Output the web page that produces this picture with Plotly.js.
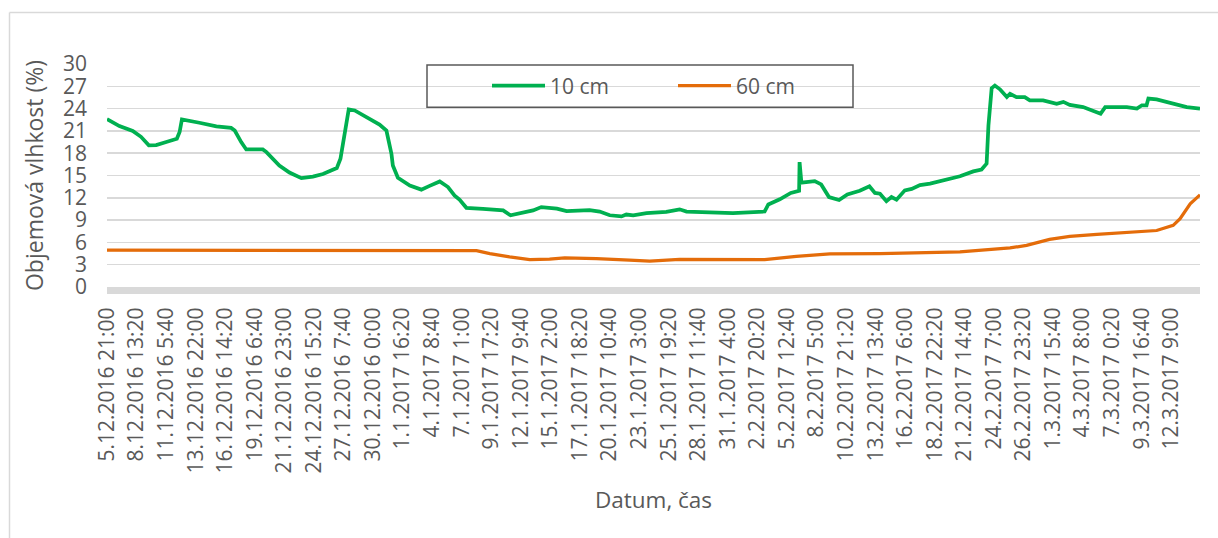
<!DOCTYPE html>
<html><head><meta charset="utf-8">
<script src="https://cdn.plot.ly/plotly-3.0.1.min.js"></script>
<style>html,body{margin:0;padding:0;background:#fff}#chart{width:1218px;height:538px}</style>
</head><body><div id="chart"></div>
<script>
// Category tick labels shown on the x axis (every 64 h 20 min)
const tickLabels = [
 "5.12.2016 21:00","8.12.2016 13:20","11.12.2016 5:40","13.12.2016 22:00","16.12.2016 14:20",
 "19.12.2016 6:40","21.12.2016 23:00","24.12.2016 15:20","27.12.2016 7:40","30.12.2016 0:00",
 "1.1.2017 16:20","4.1.2017 8:40","7.1.2017 1:00","9.1.2017 17:20","12.1.2017 9:40",
 "15.1.2017 2:00","17.1.2017 18:20","20.1.2017 10:40","23.1.2017 3:00","25.1.2017 19:20",
 "28.1.2017 11:40","31.1.2017 4:00","2.2.2017 20:20","5.2.2017 12:40","8.2.2017 5:00",
 "10.2.2017 21:20","13.2.2017 13:40","16.2.2017 6:00","18.2.2017 22:20","21.2.2017 14:40",
 "24.2.2017 7:00","26.2.2017 23:20","1.3.2017 15:40","4.3.2017 8:00","7.3.2017 0:20",
 "9.3.2017 16:40","12.3.2017 9:00"
];

// 10 cm series (volumetric moisture, %)
const time10 = [
 "2016-12-05 21:00","2016-12-07 00:00","2016-12-08 05:00","2016-12-08 23:00","2016-12-09 16:00",
 "2016-12-10 08:00","2016-12-11 06:00","2016-12-12 05:00","2016-12-12 11:00","2016-12-12 16:00",
 "2016-12-14 06:00","2016-12-15 19:00","2016-12-17 03:00","2016-12-17 11:00","2016-12-18 01:00",
 "2016-12-18 12:00","2016-12-20 00:00","2016-12-20 08:00","2016-12-21 12:00","2016-12-22 10:00",
 "2016-12-23 12:00","2016-12-24 13:00","2016-12-25 11:00","2016-12-26 17:00","2016-12-27 01:00",
 "2016-12-27 10:00","2016-12-27 19:00","2016-12-28 08:00","2016-12-29 09:00","2016-12-30 14:00",
 "2016-12-31 05:00","2016-12-31 16:00","2016-12-31 19:00","2017-01-01 06:00","2017-01-02 08:00",
 "2017-01-03 09:00","2017-01-04 03:00","2017-01-05 01:00","2017-01-05 19:00","2017-01-06 09:30",
 "2017-01-06 20:00","2017-01-07 11:00","2017-01-08 23:00","2017-01-10 08:00","2017-01-10 19:00",
 "2017-01-11 11:00","2017-01-12 14:00","2017-01-13 12:00","2017-01-14 06:00","2017-01-15 16:00",
 "2017-01-16 13:00","2017-01-18 15:00","2017-01-19 13:00","2017-01-20 11:00","2017-01-21 12:30",
 "2017-01-21 23:00","2017-01-22 14:00","2017-01-23 19:00","2017-01-25 14:00","2017-01-26 19:00",
 "2017-01-27 10:00","2017-01-29 20:00","2017-01-31 15:00","2017-02-03 12:00","2017-02-03 20:00",
 "2017-02-04 21:00","2017-02-05 21:00","2017-02-06 15:00","2017-02-06 16:00","2017-02-06 20:00",
 "2017-02-08 01:00","2017-02-08 15:00","2017-02-09 08:00","2017-02-10 06:00","2017-02-11 00:00",
 "2017-02-12 03:00","2017-02-13 00:00","2017-02-13 12:00","2017-02-13 23:00","2017-02-14 13:00",
 "2017-02-15 00:00","2017-02-15 11:00","2017-02-16 05:00","2017-02-16 20:00","2017-02-17 14:00",
 "2017-02-18 12:00","2017-02-19 17:00","2017-02-21 05:00","2017-02-22 10:00","2017-02-23 04:00",
 "2017-02-23 15:00","2017-02-23 19:00","2017-02-24 02:00","2017-02-24 09:00","2017-02-24 20:00",
 "2017-02-25 11:00","2017-02-25 18:00","2017-02-26 08:00","2017-02-27 02:00","2017-02-27 13:00",
 "2017-02-28 18:00","2017-03-01 23:30","2017-03-02 14:00","2017-03-03 04:00","2017-03-04 09:00",
 "2017-03-05 07:00","2017-03-05 23:00","2017-03-06 09:00","2017-03-07 10:00","2017-03-08 08:00",
 "2017-03-09 06:00","2017-03-09 17:00","2017-03-10 03:00","2017-03-10 07:00","2017-03-11 01:00",
 "2017-03-12 13:00","2017-03-13 18:30","2017-03-14 23:20"
];
const value10 = [
 22.6,21.65,21.0,20.2,19.05, 19.1,19.5,19.95,20.85,22.55,
 22.1,21.6,21.4,21.05,19.5, 18.5,18.5,18.15,16.35,15.4,
 14.65,14.85,15.2,16.0,17.25, 20.85,23.9,23.75,22.85,21.85,
 21.05,17.9,16.35,14.7,13.65, 13.1,13.6,14.2,13.45,12.3,
 11.75,10.65,10.5,10.3,10.3, 9.65,10.05,10.3,10.75,10.55,
 10.2,10.35,10.15,9.65,9.5, 9.75,9.65,9.95,10.1,10.45,
 10.15,10.05,9.95,10.15,11.1, 11.8,12.65,12.95,16.8,14.05,
 14.25,13.8,12.1,11.7,12.45, 12.95,13.55,12.65,12.55,11.55,
 12.1,11.75,13.0,13.2,13.7, 13.9,14.35,14.9,15.55,15.8,
 16.6,21.75,26.75,27.1,26.6, 25.55,26.0,25.55,25.55,25.1,
 25.1,24.65,24.9,24.5,24.2, 23.75,23.3,24.2,24.2,24.2,
 24.0,24.45,24.45,25.35,25.25, 24.65,24.2,24.0
];

// 60 cm series (volumetric moisture, %)
const time60 = [
 "2016-12-05 21:00","2016-12-14 06:00","2016-12-24 13:00","2017-01-02 08:00","2017-01-07 18:00",
 "2017-01-08 09:00","2017-01-09 14:00","2017-01-11 09:00","2017-01-13 05:00","2017-01-15 00:00",
 "2017-01-16 09:00","2017-01-19 06:00","2017-01-22 06:00","2017-01-24 02:00","2017-01-26 19:00",
 "2017-01-31 08:00","2017-02-03 12:00","2017-02-06 09:00","2017-02-09 10:00","2017-02-13 23:00",
 "2017-02-17 14:00","2017-02-21 05:00","2017-02-25 18:00","2017-02-27 06:00","2017-03-01 08:00",
 "2017-03-03 04:00","2017-03-05 15:00","2017-03-08 08:00","2017-03-11 01:00","2017-03-12 13:00",
 "2017-03-13 04:00","2017-03-14 02:00","2017-03-14 23:20"
];
const value60 = [
 4.95,4.95,4.97,4.95,4.95, 4.9,4.5,4.05,3.7,3.75,
 3.92,3.82,3.6,3.48,3.7, 3.67,3.67,4.12,4.45,4.5,
 4.6,4.72,5.25,5.6,6.4, 6.8,7.08,7.3,7.6,8.29,
 9.19,11.2,12.4
];

const seriesNames = ["10 cm", "60 cm"];
const yTitle = "Objemová vlhkost (%)";
const xTitle = "Datum, čas";

function labelToIso(label) {
  const [d, t] = label.split(" ");
  const [dd, mm, yy] = d.split(".");
  const [hh, mi] = t.split(":");
  return yy + "-" + mm.padStart(2, "0") + "-" + dd.padStart(2, "0") + " " + hh.padStart(2, "0") + ":" + mi;
}
const tickVals = tickLabels.map(labelToIso);

const traces = [
  {x: time10, y: value10, type: "scatter", mode: "lines", name: seriesNames[0],
   line: {color: "#00B050", width: 3.75}},
  {x: time60, y: value60, type: "scatter", mode: "lines", name: seriesNames[1],
   line: {color: "#E46C0A", width: 3.25}}
];

const L = 107, T = 64, W = 1093, H = 223;
function px(x) { return (x - L) / W; }
function py(y) { return (T + H - y) / H; }

const layout = {
  width: 1218, height: 538,
  margin: {l: L, r: 1218 - L - W, t: T, b: 538 - T - H, pad: 0},
  paper_bgcolor: "#ffffff", plot_bgcolor: "#ffffff",
  font: {family: "Open Sans, sans-serif", color: "#595959", size: 21},
  showlegend: true,
  xaxis: {
    type: "date", range: ["2016-12-05 21:00", "2017-03-14 23:20"],
    tickmode: "array", tickvals: tickVals, ticktext: tickLabels, tickangle: -90,
    showgrid: false, zeroline: false, showline: true, linecolor: "#d9d9d9", linewidth: 7,
    ticks: "", ticklabelstandoff: 5, tickfont: {size: 21, color: "#595959"},
    title: {text: xTitle, font: {size: 22.5, color: "#595959"}, standoff: 22},
    automargin: false, fixedrange: true
  },
  yaxis: {
    range: [0, 30], tickmode: "linear", tick0: 0, dtick: 3,
    showgrid: true, gridcolor: "#d9d9d9", gridwidth: 1.5, zeroline: false, showline: false,
    ticks: "", ticklabelstandoff: 19, tickfont: {size: 21, color: "#595959"},
    title: {text: yTitle, font: {size: 23, color: "#595959"}, standoff: 12},
    automargin: false, fixedrange: true
  },
  legend: {
    orientation: "h", x: px(487), y: py(86), xanchor: "left", yanchor: "middle",
    bgcolor: "rgba(0,0,0,0)", borderwidth: 0, itemwidth: 53,
    entrywidth: 118, entrywidthmode: "pixels",
    font: {size: 21, color: "#595959"}
  },
  shapes: [
    {type: "rect", xref: "paper", yref: "paper", x0: px(427), x1: px(853), y0: py(107.3), y1: py(65),
     line: {color: "#595959", width: 1.5}, fillcolor: "rgba(0,0,0,0)", layer: "above"},
    {type: "line", xref: "paper", yref: "paper", x0: px(9.5), x1: px(9.5), y0: py(12.5), y1: py(540),
     line: {color: "#d9d9d9", width: 1.5}},
    {type: "line", xref: "paper", yref: "paper", x0: px(9.5), x1: px(1220), y0: py(12.5), y1: py(12.5),
     line: {color: "#d9d9d9", width: 1.5}}
  ]
};

Plotly.newPlot("chart", traces, layout, {staticPlot: true, displayModeBar: false});
</script></body></html>
